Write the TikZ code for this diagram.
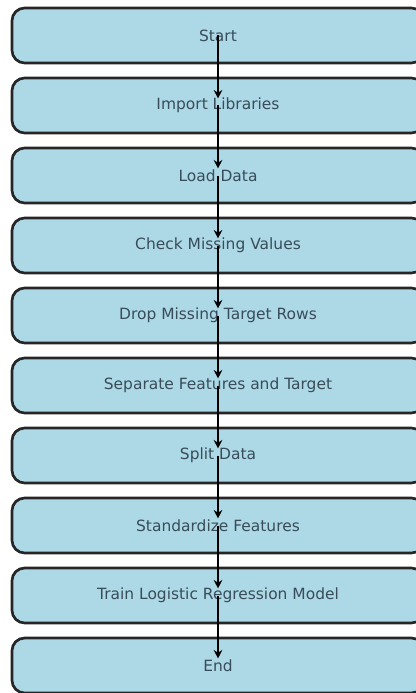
\documentclass[tikz,border=0pt]{standalone}
\usepackage{fontspec}
\setmainfont{DejaVu Sans}
\usetikzlibrary{positioning,arrows.meta}

\definecolor{boxfill}{HTML}{ADD8E6}
\definecolor{boxtext}{rgb}{0.22,0.30,0.35}

\begin{document}
\begin{tikzpicture}[
    >=Stealth,
    node distance=0.375cm,
    font=\fontsize{11}{13}\selectfont,
    step box/.style={draw=black!85, fill=boxfill, rounded corners=9pt,
                     minimum height=1.375cm, minimum width=10.3cm,
                     outer sep=0pt, line width=1.9pt, text=boxtext,
                     align=center},
    arrow/.style={->, line width=1.8pt, shorten >=5pt,
                  >={Stealth[length=6pt,width=6pt]}},
]
\useasboundingbox (0,0) rectangle (10.4,-17.325);

% === Steps, top to bottom ===
\node[step box] (start) at (5.45,-0.8875) {Start};
\node[step box, below=of start] (import) {Import Libraries};
\node[step box, below=of import] (load) {Load Data};
\node[step box, below=of load] (check) {Check Missing Values};
\node[step box, below=of check] (drop) {Drop Missing Target Rows};
\node[step box, below=of drop] (separate) {Separate Features and Target};
\node[step box, below=of separate] (split) {Split Data};
\node[step box, below=of split] (standardize) {Standardize Features};
\node[step box, below=of standardize] (train) {Train Logistic Regression Model};
\node[step box, below=of train] (finish) {End};

% === Arrows ===
\draw[arrow] (start.center) -- (import.center);
\draw[arrow] (import.center) -- (load.center);
\draw[arrow] (load.center) -- (check.center);
\draw[arrow] (check.center) -- (drop.center);
\draw[arrow] (drop.center) -- (separate.center);
\draw[arrow] (separate.center) -- (split.center);
\draw[arrow] (split.center) -- (standardize.center);
\draw[arrow] (standardize.center) -- (train.center);
\draw[arrow] (train.center) -- (finish.center);

\end{tikzpicture}
\end{document}
